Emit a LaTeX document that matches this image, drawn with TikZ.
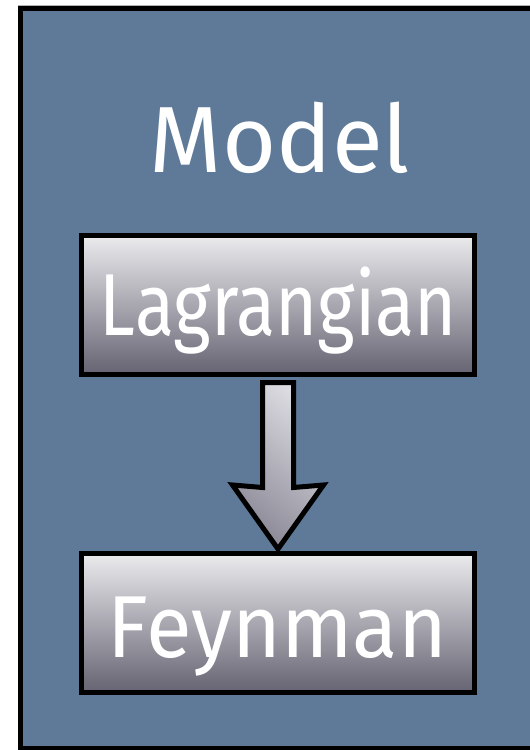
\documentclass[tikz,border=0pt]{standalone}
\usepackage{fontspec}
\setmainfont{Fira Sans}
\usetikzlibrary{calc}
\definecolor{bg}{HTML}{5E7A98}
\definecolor{boxtop}{HTML}{EBEBEE}
\definecolor{boxbot}{HTML}{666372}
\definecolor{arrlight}{HTML}{DCDCE2}
\definecolor{arrdark}{HTML}{8A8895}
\newcommand{\fittext}[3]{\resizebox{#1}{\height}{\fontsize{#2}{#2}\selectfont #3}}
\tikzset{
  panel/.style={draw=black, line width=5pt, fill=bg},
  stepbox/.style={draw=black, line width=5pt, outer sep=0pt, inner sep=0pt,
    top color=boxtop, bottom color=boxbot,
    minimum width=393pt, minimum height=139pt},
  txt/.style={text=white, anchor=base, inner sep=0pt, outer sep=0pt},
  bigarrow/.style={draw=black, line width=5pt, line join=miter,
    top color=arrlight, bottom color=arrdark, shading angle=-40},
}
\begin{document}
\begin{tikzpicture}[x=1pt,y=-1pt]
\useasboundingbox (0,0) rectangle (530,750);
\begin{scope}
  \clip (0,0) rectangle (530,750);
  \fill[white] (0,0) rectangle (530,750);
  \draw[gray!60, line width=1pt] (18,5.5) -- (535,5.5);
  \draw[panel] (20.5,8.5) rectangle (545,748.5);
\end{scope}

% boxes
\node[stepbox] (lag) at (278,305) {};
\node[stepbox] (fey) at (278,623) {};

% arrow from Lagrangian to Feynman
\coordinate (stl) at ($(lag.south)+(-15.5,8)$);
\coordinate (str) at ($(lag.south)+(15.5,8)$);
\coordinate (tip) at ($(fey.north)+(0,-4.5)$);
\draw[bigarrow] (stl) -- (str) -- (str |- 0,487.5) -- ($(tip)+(45.5,-64)$)
  -- (tip) -- ($(tip)+(-45.5,-64)$) -- (stl |- 0,487.5) -- cycle;

% texts
\node[txt] (model) at (280,172) {\fittext{260pt}{94}{Model}};
\node[txt] (lagt) at (278.5,335) {\fittext{357pt}{88}{Lagrangian}};
\node[txt] (feyt) at (277.5,657) {\fittext{339pt}{88}{Feynman}};
\end{tikzpicture}
\end{document}
